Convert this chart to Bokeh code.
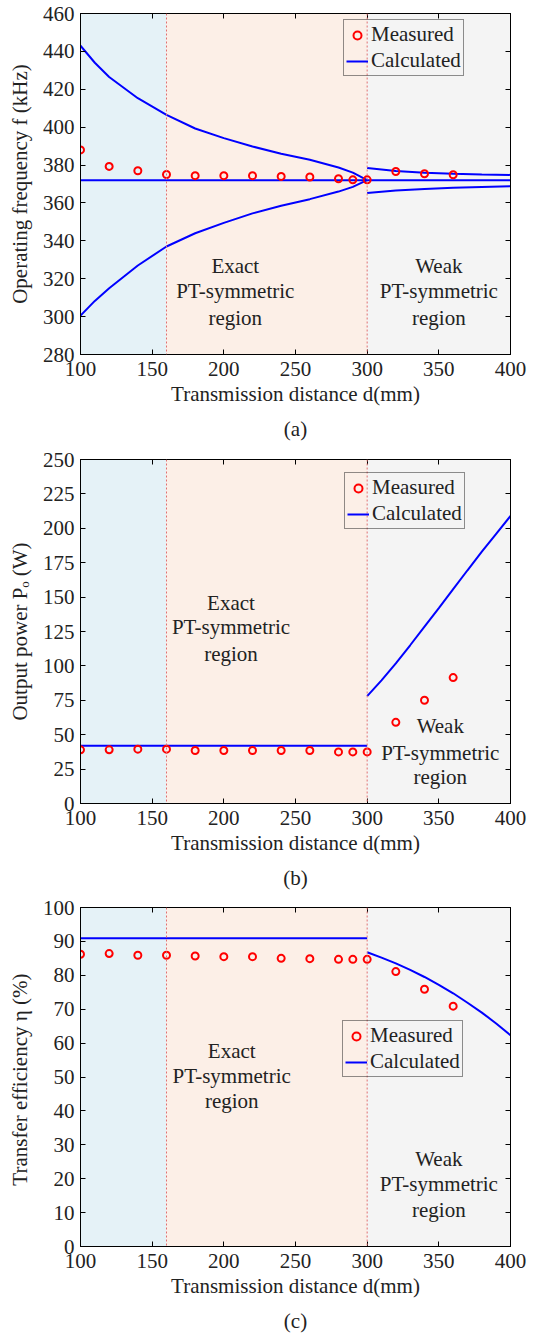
from bokeh.plotting import figure
from bokeh.models import (Range1d, LinearAxis, FixedTicker, BoxAnnotation, Span,
                          Legend, LegendItem, Title, ColumnDataSource)
from bokeh.layouts import column
from bokeh.embed import file_html
from bokeh.resources import INLINE

FONT = "Liberation Serif"
FS = "21px"

# ---------------- data ----------------
x_ticks = [100, 150, 200, 250, 300, 350, 400]
d_meas = [100, 120, 140, 160, 180, 200, 220, 240, 260, 280, 290, 300, 320, 340, 360]

# (a) operating frequency
f_meas = [388, 379.3, 377, 375, 374.4, 374.4, 374.4, 374, 373.7, 372.8, 372.2, 372.2, 376.6, 375.4, 374.9]
d_exact = [100, 110, 120, 140, 160, 180, 200, 220, 240, 260, 280, 290, 300]
f_upper_exact = [443, 434, 426.5, 415.3, 406.5, 399.3, 394.2, 389.8, 386, 382.8, 378.7, 376, 372]
f_lower_exact = [300.5, 308.3, 315, 327, 337, 344, 349.5, 354.5, 358.5, 362, 366, 368.5, 372]
d_full = [100, 400]
f_mid = [372, 372]
d_weak = [300, 320, 340, 360, 380, 400]
f_upper_weak = [378.5, 376.8, 376, 375.4, 375, 374.8]
f_lower_weak = [365.3, 366.6, 367.4, 368, 368.4, 368.8]
f_ticks = [280, 300, 320, 340, 360, 380, 400, 420, 440, 460]

# (b) output power
p_meas = [39, 39, 39.5, 39.5, 38.5, 38.5, 38.5, 38.5, 38.5, 37.5, 37.5, 37.5, 59, 75, 91.5]
d_flat = [100, 300]
p_flat = [42, 42]
d_weak_b = [300, 310, 320, 330, 340, 350, 360, 370, 380, 390, 400]
p_weak = [78, 89.5, 101.8, 115, 128.5, 142, 155.8, 169.5, 183, 196, 209]
p_ticks = [0, 25, 50, 75, 100, 125, 150, 175, 200, 225, 250]

# (c) transfer efficiency
eta_meas = [86.2, 86.4, 85.9, 85.9, 85.7, 85.5, 85.5, 85.0, 84.9, 84.7, 84.7, 84.7, 81.1, 75.9, 70.9]
eta_flat = [90.9, 90.9]
d_weak_c = [300, 310, 320, 330, 340, 350, 360, 370, 380, 390, 400]
eta_weak = [86.8, 85.2, 83.5, 81.6, 79.5, 77.2, 74.7, 71.9, 69, 65.8, 62.3]
eta_ticks = [0, 10, 20, 30, 40, 50, 60, 70, 80, 90, 100]

region_bounds = [100, 160, 300, 400]
region_colors = ["#e5f2f7", "#fcefe7", "#f4f4f4"]
exact_lines = ["Exact", "PT-symmetric", "region"]
weak_lines = ["Weak", "PT-symmetric", "region"]


def make_fig(height, ymin, ymax, yticks, ylabel, caption, top, bottom, left, right):
    p = figure(width=534, height=height, output_backend="svg", toolbar_location=None,
               x_range=Range1d(100, 400), y_range=Range1d(ymin, ymax),
               min_border_top=top, min_border_bottom=bottom,
               min_border_left=left, min_border_right=right)
    p.xgrid.visible = False
    p.ygrid.visible = False
    p.outline_line_color = "black"
    p.outline_line_width = 1
    p.background_fill_color = "white"
    for ax, tk in ((p.xaxis[0], x_ticks), (p.yaxis[0], yticks)):
        ax.ticker = FixedTicker(ticks=tk)
        ax.minor_tick_line_color = None
        ax.major_tick_in = 5
        ax.major_tick_out = 0
        ax.major_label_text_font = FONT
        ax.major_label_text_font_size = FS
        ax.major_label_text_color = "#222222"
        ax.axis_label_text_font = FONT
        ax.axis_label_text_font_size = FS
        ax.axis_label_text_font_style = "normal"
        ax.axis_label_text_color = "#222222"
        ax.axis_line_color = "black"
    p.xaxis[0].axis_label = "Transmission distance d(mm)"
    p.xaxis[0].major_label_standoff = 7
    p.xaxis[0].axis_label_standoff = 3
    p.yaxis[0].axis_label = ylabel
    p.yaxis[0].major_label_standoff = 6
    p.yaxis[0].axis_label_standoff = 8
    for loc, tk in (("right", yticks), ("above", x_ticks)):
        ax = LinearAxis(ticker=FixedTicker(ticks=tk),
                        major_label_overrides={t: "" for t in tk},
                        major_tick_in=5, major_tick_out=0, minor_tick_line_color=None,
                        axis_line_color="black", major_label_standoff=0)
        p.add_layout(ax, loc)
    # shaded regions
    for i in range(3):
        p.add_layout(BoxAnnotation(left=region_bounds[i], right=region_bounds[i + 1],
                                   fill_color=region_colors[i], fill_alpha=1.0,
                                   line_color=None, level="underlay"))
    for xb in (160, 300):
        p.add_layout(Span(location=xb, dimension="height", line_color="#e07070",
                          line_width=1, line_dash="2 2"))
    p.add_layout(Title(text=caption, align="center", text_font=FONT,
                       text_font_size=FS, text_font_style="normal",
                       text_color="#222222", standoff=12), "below")
    return p


def region_text(p, x, ys, lines):
    src = ColumnDataSource(dict(x=[x] * len(lines), y=ys, t=lines))
    r = p.text(x="x", y="y", text="t", source=src, text_align="center",
               text_baseline="middle", text_font_size=FS, text_color="#222222")
    r.glyph.text_font = FONT


def add_legend(p, meas_r, calc_r, loc):
    leg = Legend(items=[LegendItem(label="Measured", renderers=[meas_r]),
                        LegendItem(label="Calculated", renderers=[calc_r])],
                 location=loc, label_text_font=FONT, label_text_font_size=FS,
                 label_text_color="#222222", glyph_width=22, glyph_height=20,
                 label_height=20, label_standoff=3, padding=2, spacing=1, margin=0,
                 border_line_color="#222222", border_line_width=1,
                 background_fill_alpha=0.0)
    p.add_layout(leg)


def meas(p, x, y):
    return p.scatter(x, y, marker="circle", size=7, fill_color=None,
                     line_color="red", line_width=2)


def calc(p, x, y):
    return p.line(x, y, line_color="blue", line_width=2)


# ---------------- (a) ----------------
pa = make_fig(446, 280, 460, f_ticks, "Operating frequency f (kHz)", "(a)",
              13, 90, 79, 22)
region_text(pa, 208, [326.6, 313.5, 299.5], exact_lines)
region_text(pa, 350, [326.6, 313.5, 299.5], weak_lines)
ca = calc(pa, d_exact, f_upper_exact)
calc(pa, d_exact, f_lower_exact)
calc(pa, d_full, f_mid)
calc(pa, d_weak, f_upper_weak)
calc(pa, d_weak, f_lower_weak)
ma = meas(pa, d_meas, f_meas)
add_legend(pa, ma, ca, (263, 278))

# ---------------- (b) ----------------
pb = make_fig(449, 0, 250, p_ticks, "Output power Pₒ (W)", "(b)",
              13, 91, 80, 21)
region_text(pb, 205, [145.5, 128.3, 109], exact_lines)
region_text(pb, 351, [56.2, 36.4, 19.4], weak_lines)
cb = calc(pb, d_flat, p_flat)
calc(pb, d_weak_b, p_weak)
mb = meas(pb, d_meas, p_meas)
add_legend(pb, mb, cb, (264, 274))

# ---------------- (c) ----------------
pc = make_fig(443, 0, 100, eta_ticks, "Transfer efficiency η  (%)", "(c)",
              12, 89, 77, 24)
region_text(pc, 205.5, [57.6, 50.3, 43], exact_lines)
region_text(pc, 350, [25.9, 18.3, 10.8], weak_lines)
cc = calc(pc, d_flat, eta_flat)
calc(pc, d_weak_c, eta_weak)
mc = meas(pc, d_meas, eta_meas)
add_legend(pc, mc, cc, (262, 169))

layout = column(pa, pb, pc, spacing=0)
open("out.html", "w").write(file_html(layout, INLINE))
